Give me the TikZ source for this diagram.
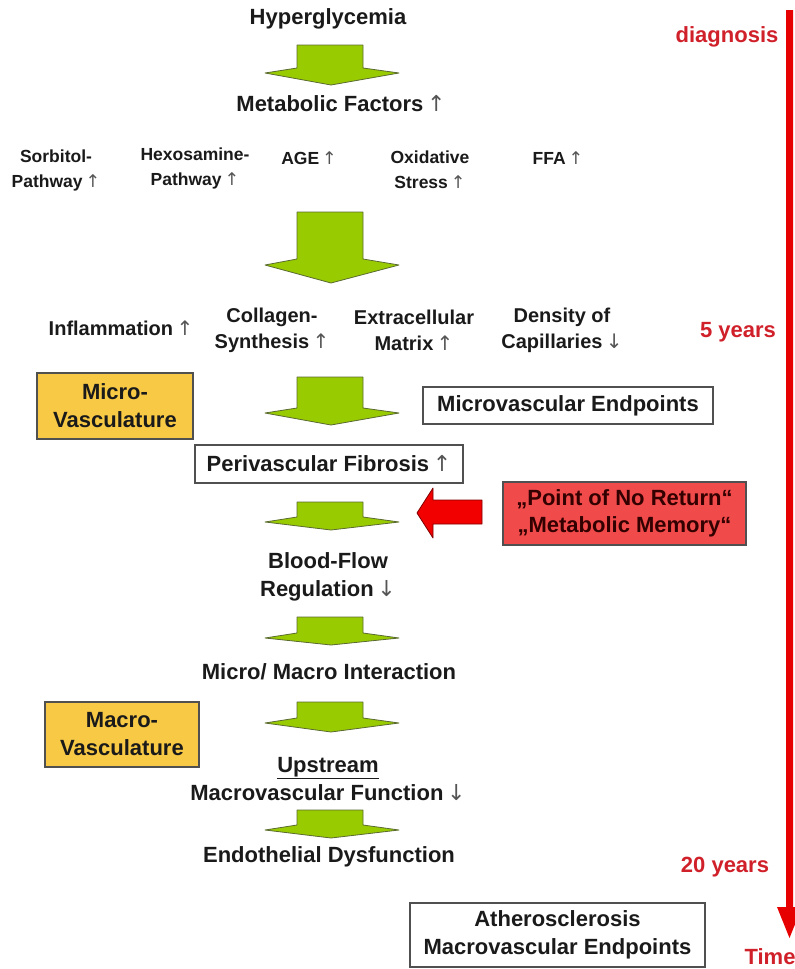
\documentclass[tikz,border=0pt]{standalone}
\usepackage{fontspec}
\setmainfont{Liberation Sans}
\newfontfamily\arrfont{DejaVu Sans}
\definecolor{textc}{HTML}{1A1A1A}
\definecolor{arrgray}{HTML}{555555}
\definecolor{redtxt}{HTML}{D0202A}
\definecolor{timered}{HTML}{E60000}
\definecolor{boxc}{HTML}{505050}
\definecolor{goldfill}{HTML}{F8C945}
\definecolor{redfill}{HTML}{F04A4A}
\definecolor{greenfill}{HTML}{99CC00}
\definecolor{greenedge}{HTML}{5A6A30}
\newcommand{\upa}{{\arrfont\mdseries\color{arrgray}\,↑}}
\newcommand{\dna}{{\arrfont\mdseries\color{arrgray}\,↓}}
% green block arrow: #1 top, #2 body bottom, #3 wing y, #4 tip y
\newcommand{\greenarrow}[4]{%
  \filldraw[fill=greenfill, draw=greenedge, line width=0.8pt, line join=round]
    (297,#1) -- (363,#1) -- (363,#2) -- (399,#3) -- (331,#4) -- (265,#3) -- (297,#2) -- cycle;}
\begin{document}
\begin{tikzpicture}[x=1pt,y=-1pt,
  txt/.style={font=\bfseries\fontsize{22}{28}\selectfont, align=center, text=textc, inner sep=0pt},
  smalltxt/.style={font=\bfseries\fontsize{17.5}{25}\selectfont, align=center, text=textc, inner sep=0pt},
  midtxt/.style={font=\bfseries\fontsize{20}{26}\selectfont, align=center, text=textc, inner sep=0pt},
  redlbl/.style={font=\bfseries\fontsize{22}{26}\selectfont, text=redtxt, inner sep=0pt},
  wbox/.style={draw=boxc, line width=1.2pt, fill=white, inner sep=0pt, font=\bfseries\fontsize{22}{28}\selectfont, align=center, text=textc},
  goldbox/.style={wbox, fill=goldfill},
  redbox/.style={wbox, fill=redfill, text=black!80!red}
]
\useasboundingbox (0,0) rectangle (795,969);
\clip (0,0) rectangle (795,969);

% time line
\fill[timered] (786,10) -- (793,10) -- (793,907) -- (802,907) -- (789.5,938) -- (777,907) -- (786,907) -- cycle;
\node[redlbl] (diag) at (727,37) {diagnosis};
\node[redlbl] (five) at (738,332) {5 years};
\node[redlbl] (twenty) at (725,867) {20 years};
\node[redlbl] (time) at (770,957) {Time};

% main column
\node[txt] (hyper) at (328,19) {Hyperglycemia};
\greenarrow{45}{68}{73}{85}
\node[txt] (metab) at (341,104) {Metabolic Factors\upa};

\node[smalltxt] (sorb) at (56,170) {Sorbitol-\\Pathway\upa};
\node[smalltxt] (hexo) at (195,168) {Hexosamine-\\Pathway\upa};
\node[smalltxt] (age) at (309,158) {AGE\upa};
\node[smalltxt] (oxid) at (430,170) {Oxidative\\Stress\upa};
\node[smalltxt] (ffa) at (558,158) {FFA\upa};

\greenarrow{212}{259}{265}{283}

\node[midtxt] (infl) at (121,328) {Inflammation\upa};
\node[midtxt] (coll) at (272,330) {Collagen-\\Synthesis\upa};
\node[midtxt] (extra) at (414,330) {Extracellular\\Matrix\upa};
\node[midtxt] (dens) at (562,330) {Density of\\Capillaries\dna};

\node[goldbox, minimum width=156pt, minimum height=66pt] (micro) at (115,406) {Micro-\\Vasculature};
\greenarrow{377}{408}{413}{425}
\node[wbox, minimum width=290pt, minimum height=37pt] (microend) at (568,405.5) {Microvascular Endpoints};

\node[wbox, minimum width=268pt, minimum height=38pt] (peri) at (329,464) {Perivascular Fibrosis\upa};

\greenarrow{502}{517}{522}{530}

% red arrow and box
\filldraw[fill=red!95!black, draw=red!50!black, line width=0.8pt, line join=round]
  (417,513) -- (433,488) -- (433,500) -- (482,500) -- (482,524) -- (433,524) -- (433,538) -- cycle;
\node[redbox, minimum width=243pt, minimum height=63pt, font=\bfseries\fontsize{22}{27}\selectfont] (pnr) at (624.5,513.5) {„Point of No Return“\\„Metabolic Memory“};

\node[txt] (blood) at (328,577) {Blood-Flow\\Regulation\dna};
\greenarrow{617}{633}{638}{645}
\node[txt] (micmac) at (329,672) {Micro/ Macro Interaction};

\node[goldbox, minimum width=154pt, minimum height=65pt] (macro) at (122,734.5) {Macro-\\Vasculature};
\greenarrow{702}{718}{723}{732}

\node[txt] (upstream) at (328,779) {\underline{Upstream}\\Macrovascular Function\dna};
\greenarrow{810}{825}{830}{838}
\node[txt] (endo) at (329,857) {Endothelial Dysfunction};

\node[wbox, minimum width=295pt, minimum height=64pt] (athero) at (557.5,935) {Atherosclerosis\\Macrovascular Endpoints};
\end{tikzpicture}
\end{document}
